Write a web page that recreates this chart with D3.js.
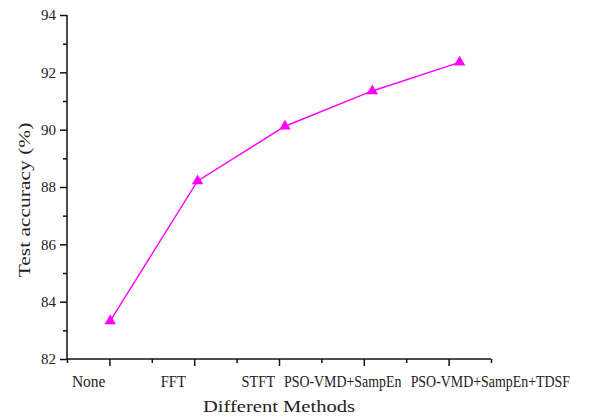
<!DOCTYPE html>
<html>
<head>
<meta charset="utf-8">
<script src="https://cdn.jsdelivr.net/npm/d3@7"></script>
<style>
  body { margin: 0; background: #fff; }
  text { font-family: "Liberation Serif", "DejaVu Serif", serif; fill: #222; }
</style>
</head>
<body>
<svg id="chart"></svg>
<script>
// Data
const methods = ["None", "FFT", "STFT", "PSO-VMD+SampEn", "PSO-VMD+SampEn+TDSF"];
const accuracy = [83.33, 88.21, 90.12, 91.35, 92.35];
const yTicks = [82, 84, 86, 88, 90, 92, 94];

const width = 599, height = 417;
const svg = d3.select("#chart").attr("width", width).attr("height", height);

// plot area
const plotL = 67, plotR = 491, plotT = 15, plotB = 359;

// x axis runs 0..5 in "slot" units, major ticks at the half slots
const x = d3.scaleLinear().domain([0, 5]).range([plotL, plotR]);
const xp = d3.scalePoint().domain(methods).range([x(0.51), x(4.63)]);
const y = d3.scaleLinear().domain([82, 94]).range([plotB, plotT]);

const axisColor = "#111";

// the original font is narrow: squeeze each text horizontally
function squeezed(parent, str, cx, cy, perChar, rotate) {
  const t = parent.append("text")
      .attr("text-anchor", "middle")
      .attr("font-size", 17)
      .text(str);
  const sx = (str.length * perChar) / t.node().getComputedTextLength();
  t.attr("transform", `translate(${cx},${cy})${rotate ? " rotate(-90)" : ""} scale(${sx},1)`);
  return t;
}

// y axis
const yMinor = d3.range(83, 94, 2);
svg.append("g")
    .attr("transform", `translate(${plotL},0)`)
    .call(d3.axisLeft(y).tickValues(yMinor).tickSize(4).tickFormat(""))
    .call(g => g.select(".domain").remove())
    .call(g => g.selectAll("line").attr("stroke", axisColor).attr("stroke-width", 1.5));

svg.append("g")
    .attr("transform", `translate(${plotL},0)`)
    .call(d3.axisLeft(y).tickValues(yTicks).tickSize(7).tickPadding(4).tickFormat(d3.format("d")))
    .call(g => g.select(".domain").attr("d", `M0,${plotB}V${plotT}`).attr("stroke", axisColor).attr("stroke-width", 1.5))
    .call(g => g.selectAll("line").attr("stroke", axisColor).attr("stroke-width", 1.5))
    .call(g => g.selectAll("text").attr("font-size", 15).attr("fill", "#222").attr("font-family", "Liberation Serif"));

// x axis
svg.append("g")
    .attr("transform", `translate(0,${plotB})`)
    .call(d3.axisBottom(x).tickValues(d3.range(0, 6, 1)).tickSize(4).tickFormat(""))
    .call(g => g.select(".domain").remove())
    .call(g => g.selectAll("line").attr("stroke", axisColor).attr("stroke-width", 1.5));

svg.append("g")
    .attr("transform", `translate(0,${plotB})`)
    .call(d3.axisBottom(x).tickValues([0.5, 1.5, 2.5, 3.5, 4.5]).tickSize(7).tickFormat(""))
    .call(g => g.select(".domain").attr("d", `M${plotL},0H${plotR}`).attr("stroke", axisColor).attr("stroke-width", 1.5))
    .call(g => g.selectAll("line").attr("stroke", axisColor).attr("stroke-width", 1.5));

// category labels (sit a little left of the major ticks, last one pushed right)
const labelAt = [0.256, 1.254, 2.256, 3.251, 4.992];
const labels = svg.append("g");
methods.forEach((m, i) => squeezed(labels, m, x(labelAt[i]), 387, 8.4, false));

// line
const line = d3.line()
    .x((d, i) => xp(methods[i]))
    .y(d => y(d));

svg.append("path")
    .datum(accuracy)
    .attr("fill", "none")
    .attr("stroke", "#ff00ff")
    .attr("stroke-width", 1.4)
    .attr("d", line);

// triangle markers
const tri = d3.symbol().type(d3.symbolTriangle).size(56);
svg.append("g").selectAll("path")
    .data(accuracy)
    .join("path")
    .attr("transform", (d, i) => `translate(${xp(methods[i])},${y(d)})`)
    .attr("d", tri)
    .attr("fill", "#ff00ff");

// axis titles
squeezed(svg, "Different Methods", 279, 412, 8.95, false);
squeezed(svg, "Test accuracy (%)", 30, 200, 9.1, true);
</script>
</body>
</html>
